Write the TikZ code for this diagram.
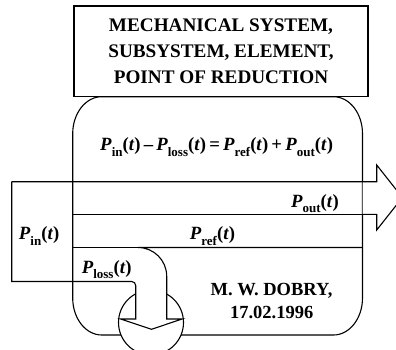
\documentclass[tikz,border=0pt]{standalone}
\usepackage{fontspec}
\setmainfont{Liberation Serif}
\newcommand{\PW}[1]{\textbf{\textit{P}\raisebox{-.3em}{\fontsize{13pt}{13pt}\selectfont\bfseries #1}(\textit{t})}}
\tikzset{
  line/.style={draw=black, line width=1.1pt},
  lbl/.style={inner sep=0pt, anchor=base, font=\fontsize{18.7pt}{22pt}\selectfont\bfseries},
}
\begin{document}
\begin{tikzpicture}[x=1pt,y=-1pt]
\useasboundingbox (0,0) rectangle (396,349);
% rounded system box
\path[line, fill=white] (101.7,96.7) -- (333.5,96.7)
  .. controls (349.5,96.7) and (362.5,113.3) .. (362.5,133.7) -- (362.5,298)
  .. controls (362.5,318.4) and (349.5,335) .. (333.5,335) -- (101.7,335)
  .. controls (85.7,335) and (72.7,318.4) .. (72.7,298) -- (72.7,133.7)
  .. controls (72.7,113.3) and (85.7,96.7) .. (101.7,96.7) -- cycle;
% title box
\node[line, fill=white, minimum width=294pt, minimum height=90.7pt, inner sep=0pt,
      align=center, font=\fontsize{19.2pt}{26.3pt}\selectfont\bfseries] (title) at (221,51.35)
  {MECHANICAL SYSTEM,\\SUBSYSTEM, ELEMENT,\\POINT OF REDUCTION};
% loss circle
\node[line, fill=white, circle, minimum size=65pt, inner sep=0pt] (circ) at (151,322.5) {};
% white fills hiding lines under the flows
\fill[white] (135.7,281.5) -- (135.7,319) -- (120.7,319) -- (151.5,329.3) -- (182,319)
  -- (166.7,319) -- (166.7,276) -- cycle;
\fill[white] (362.5,181.7) -- (376.7,181.7) -- (376.7,165) -- (402.4,197.5)
  -- (376.7,230) -- (376.7,214.3) -- (362.5,214.3) -- cycle;
% energy flow outline
\coordinate (inTL) at (11.7,181.7);
\coordinate (inBL) at (11.7,281.5);
\draw[line, line join=miter] (inTL) -- (376.7,181.7) -- (376.7,165) -- (402.4,197.5)
  -- (376.7,230) -- (376.7,214.3) -- (362.5,214.3);
\draw[line] (72.7,214.3) -- (362.5,214.3);
\draw[line, line join=miter] (362.5,247.5) -- (138,247.5)
  .. controls (153.85,247.5) and (166.7,260.35) .. (166.7,276.2)
  -- (166.7,319) -- (182,319) -- (151.5,329.3) -- (120.7,319) -- (135.7,319)
  -- (135.7,285.5) .. controls (135.7,283.3) and (133.9,281.5) .. (131.7,281.5)
  -- (inBL) -- (inTL);
\draw[line] (72.7,247.5) -- (138,247.5);
% labels
\node[lbl] (eq) at (216.6,150.7) {\PW{in}\,–\,\PW{loss}\,=\,\PW{ref}\,+\,\PW{out}};
\node[lbl] (pout) at (315,207.3) {\PW{out}};
\node[lbl] (pref) at (212.5,239.8) {\PW{ref}};
\node[lbl] (pin) at (39.2,239.8) {\PW{in}};
\node[lbl] (ploss) at (106.7,273.2) {\PW{loss}};
\node[lbl, font=\fontsize{18.5pt}{23.3pt}\selectfont\bfseries, align=center] (auth) at (271.5,295)
  {M. W. DOBRY,};
\node[lbl, font=\fontsize{18.5pt}{23.3pt}\selectfont\bfseries] (date) at (271.7,318.3) {17.02.1996};
\end{tikzpicture}
\end{document}
